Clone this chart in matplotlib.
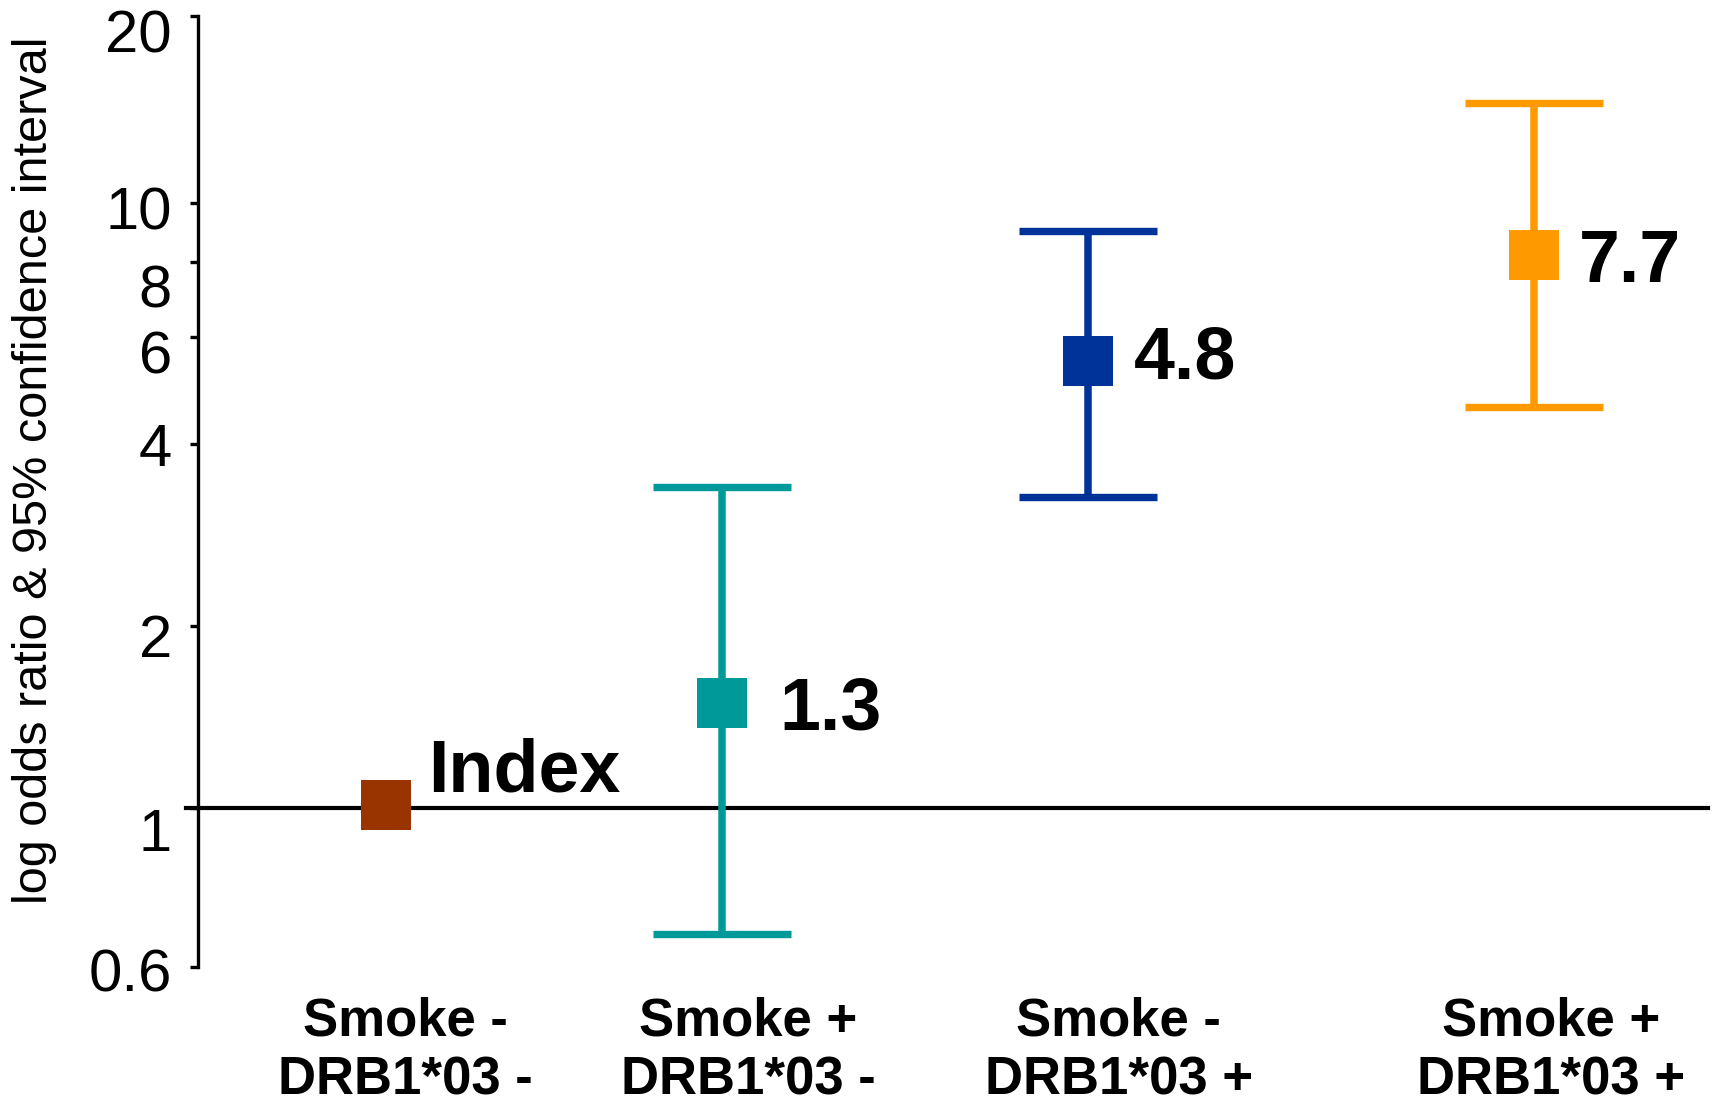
import matplotlib
matplotlib.use("Agg")
import matplotlib.pyplot as plt
from matplotlib.transforms import ScaledTranslation
from matplotlib.ticker import NullLocator

plt.rcParams['font.family'] = ['Liberation Sans', 'DejaVu Sans']

# ---- data ----
categories = ["Smoke -\nDRB1*03 -", "Smoke +\nDRB1*03 -",
              "Smoke -\nDRB1*03 +", "Smoke +\nDRB1*03 +"]
odds_ratio = [1.01, 1.49, 5.48, 8.2]
ci_low = [None, 0.62, 3.27, 4.61]
ci_high = [None, 3.40, 8.99, 14.65]
value_labels = ["Index", "1.3", "4.8", "7.7"]
ytick_values = [0.546, 1, 2, 4, 6, 8, 10, 20.4]
ytick_labels = ["0.6", "1", "2", "4", "6", "8", "10", "20"]
y_title = "log odds ratio & 95% confidence interval"

# ---- positions / styles ----
x_pos = [0.0, 1.0, 2.09, 3.42]
label_x = [0.057, 1.078, 2.183, 3.47]
colors = ["#993300", "#009999", "#003399", "#FF9900"]
text_offsets = [(30.2, 10.0), (41.8, -18.7), (33.2, -12.2), (32.5, -19.0)]
ytick_dy_px = [3, 21, 10, 1, 14.5, 24, 4.5, 15]

W, H = 1715, 1105
fig = plt.figure(figsize=(W / 100, H / 100), dpi=100)
ax = fig.add_axes([198.5 / W, 1 - 967 / H, (1708 - 198.5) / W, (967 - 16) / H])

ax.set_yscale('log')
ax.set_ylim(ytick_values[0], ytick_values[-1])
ax.set_xlim(-0.5585, 3.938)

# reference line at OR = 1
ax.axhline(1, xmin=-0.0083, xmax=1, color='black', lw=3.0, zorder=1, clip_on=False)

for i in range(len(odds_ratio)):
    if ci_low[i] is not None:
        ax.errorbar([x_pos[i]], [odds_ratio[i]],
                    yerr=[[odds_ratio[i] - ci_low[i]], [ci_high[i] - odds_ratio[i]]],
                    fmt='none', ecolor=colors[i], elinewidth=5.4,
                    capsize=50, capthick=5.3, zorder=2)
    ax.plot([x_pos[i]], [odds_ratio[i]], marker='s', markersize=35.6,
            markeredgewidth=0, color=colors[i], linestyle='none', zorder=3)
    ax.annotate(value_labels[i], xy=(x_pos[i], odds_ratio[i]),
                xytext=text_offsets[i], textcoords='offset points',
                ha='left', va='baseline', fontsize=53, fontweight='bold',
                color='black', zorder=4)

# y axis
ax.set_yticks(ytick_values)
ax.set_yticklabels(ytick_labels)
ax.yaxis.set_minor_locator(NullLocator())
ax.tick_params(axis='y', direction='out', length=6, width=2.4,
               pad=13, labelsize=43, colors='black')
for tick, dy in zip(ax.yaxis.get_major_ticks(), ytick_dy_px):
    tick.label1.set_transform(tick.label1.get_transform() +
                              ScaledTranslation(0, -dy / 100, fig.dpi_scale_trans))

# x axis category labels
ax.set_xticks(label_x)
ax.set_xticklabels(categories, fontsize=38, fontweight='bold', linespacing=1.25)
ax.tick_params(axis='x', length=0, pad=21)

for s in ['top', 'right', 'bottom']:
    ax.spines[s].set_visible(False)
ax.spines['left'].set_linewidth(2.4)

fig.text(35 / W, 1 - 470 / H, y_title, rotation=90, ha='center', va='center',
         fontsize=35)

fig.savefig('out.png', dpi=100)
